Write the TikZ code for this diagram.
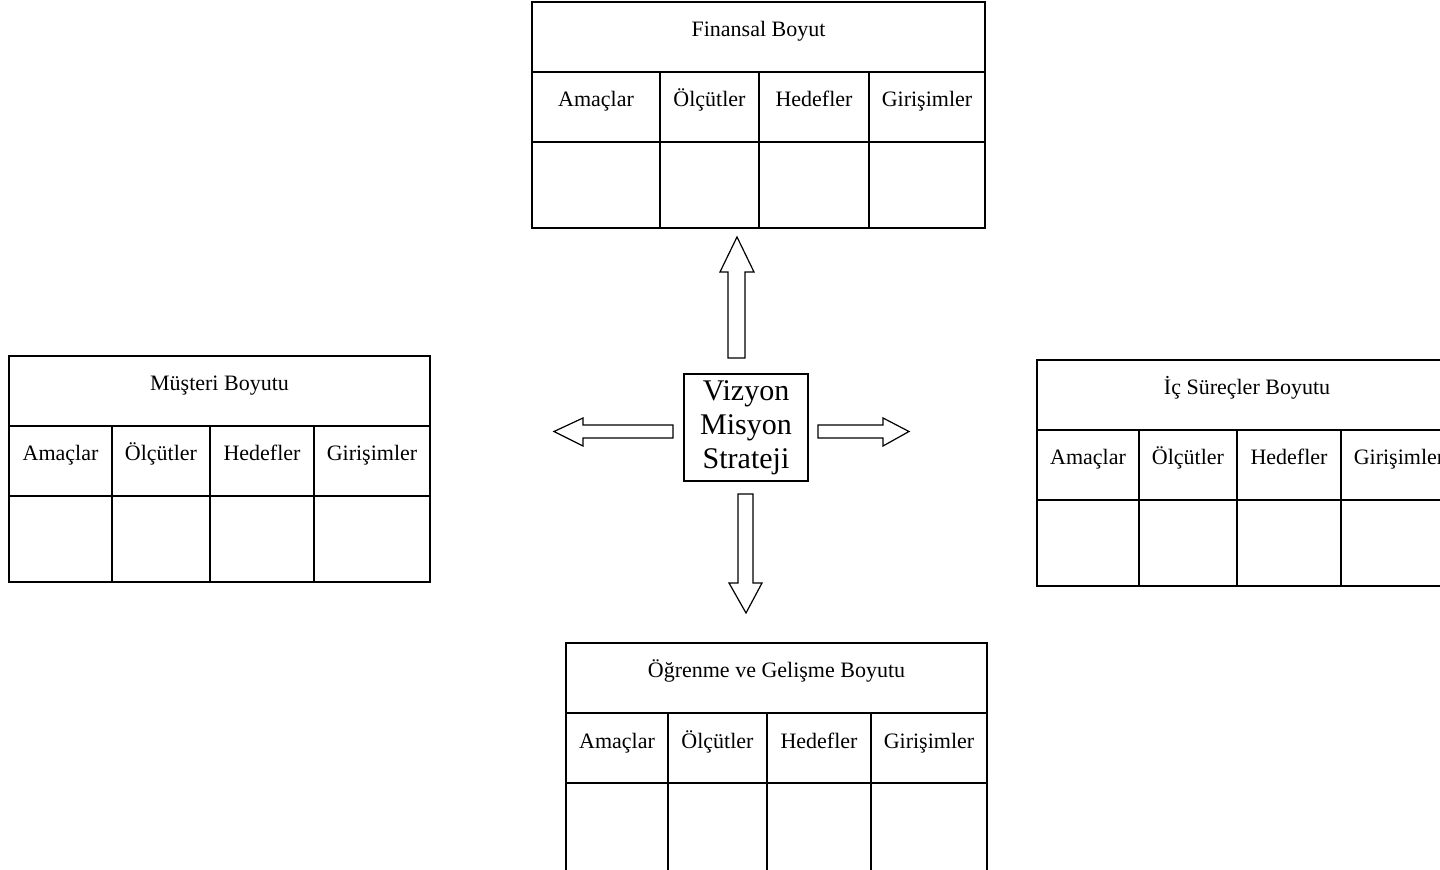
\documentclass[tikz,border=0pt]{standalone}
\usepackage{fontspec}
\setmainfont{Liberation Serif}

% One scorecard perspective: title row, header row, empty body row.
% #1 name, #2-#6 column edges, #7 top, #8 bottom, #9 title
\newcommand{\bsctable}[9]{%
  \draw[grid] (#2,#7) rectangle (#6,#8);
  \draw[grid] (#2,{#7+70}) -- (#6,{#7+70});
  \draw[grid] (#2,{#7+140}) -- (#6,{#7+140});
  \draw[grid] (#3,{#7+70}) -- (#3,#8);
  \draw[grid] (#4,{#7+70}) -- (#4,#8);
  \draw[grid] (#5,{#7+70}) -- (#5,#8);
  \node[celltext] (#1-title) at ({(#2+#6)/2},{#7+35}) {#9};
  \node[celltext] (#1-a) at ({(#2+#3)/2},{#7+105}) {Amaçlar};
  \node[celltext] (#1-o) at ({(#3+#4)/2},{#7+105}) {Ölçütler};
  \node[celltext] (#1-h) at ({(#4+#5)/2},{#7+105}) {Hedefler};
  \node[celltext] (#1-g) at ({(#5+#6)/2},{#7+105}) {Girişimler};
}

\begin{document}
\begin{tikzpicture}[x=0.5pt,y=-0.5pt,
  grid/.style={line width=1pt, black},
  celltext/.style={anchor=base, inner sep=0pt, font=\fontsize{11}{13}\selectfont},
  blockarrow/.style={draw=black, fill=white, line width=0.6pt, line join=miter},
  core/.style={draw=black, line width=0.8pt, minimum width=62pt, minimum height=53.5pt,
    inner sep=0pt, align=center, font=\fontsize{15}{17}\selectfont}]
  \useasboundingbox (0,0) rectangle (1440,870);
  \clip (0,0) rectangle (1440,870);

  % four perspectives
  \bsctable{fin}{532}{660}{759}{869}{985}{2}{228}{Finansal Boyut}
  \bsctable{mus}{9}{112}{210}{314}{430}{356}{582}{Müşteri Boyutu}
  \bsctable{ic}{1037}{1139}{1237}{1341}{1457}{360}{586}{İç Süreçler Boyutu}
  \bsctable{og}{566}{668}{767}{871}{987}{643}{880}{Öğrenme ve Gelişme Boyutu}

  % centre
  \node[core] (vms) at (746,427.5) {Vizyon\\Misyon\\Strateji};

  % hollow block arrows pointing outwards
  \draw[blockarrow] (728,358) -- (728,272) -- (720,272) -- (737,237) -- (754,272)
    -- (745,272) -- (745,358) -- cycle;
  \draw[blockarrow] (738,494) -- (738,583) -- (729,583) -- (746,613) -- (762,583)
    -- (753,583) -- (753,494) -- cycle;
  \draw[blockarrow] (673,425) -- (583,425) -- (583,418) -- (554,431.5) -- (583,446)
    -- (583,438) -- (673,438) -- cycle;
  \draw[blockarrow] (818,425) -- (883,425) -- (883,418) -- (909,431.5) -- (883,446)
    -- (883,438) -- (818,438) -- cycle;
\end{tikzpicture}
\end{document}
